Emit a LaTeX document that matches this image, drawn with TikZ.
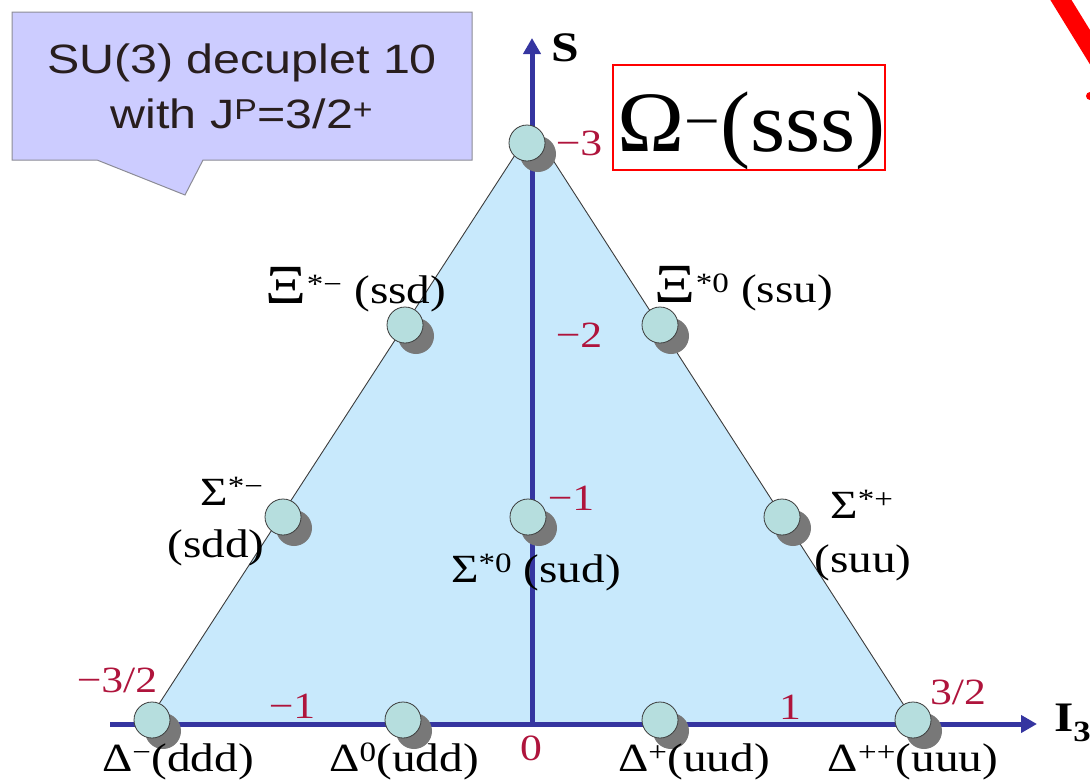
\documentclass[tikz,border=0pt]{standalone}
\usepackage{fontspec}
\usepackage{graphicx}
\setmainfont{Liberation Serif}
\newfontfamily\tms[FakeStretch=1.18]{Liberation Serif}
\newfontfamily\tmsw[FakeStretch=1.05]{Liberation Serif}
\newfontfamily\ars[FakeStretch=1.18]{Liberation Sans}
\usetikzlibrary{arrows.meta,shadows}
\definecolor{axisblue}{RGB}{53,53,160}
\definecolor{numred}{RGB}{175,20,60}
\definecolor{trifill}{RGB}{200,233,252}
\definecolor{ballfill}{RGB}{182,222,222}
\definecolor{ballline}{RGB}{60,60,60}
\definecolor{shadowgray}{RGB}{120,120,120}
\definecolor{bubblefill}{RGB}{204,204,255}
\definecolor{bubbleline}{RGB}{140,140,150}
\definecolor{edgegray}{RGB}{60,60,60}
\newcommand\lblfont{\tms\fontsize{40}{40}\selectfont}
\newcommand\numfont{\tms\fontsize{37}{37}\selectfont}
\newcommand\XiGlyph{\scalebox{1.35}[1.38]{\symbol{"039E}}}
\begin{document}
\begin{tikzpicture}[x=1pt,y=-1pt,
  ball/.style={circle, draw=ballline, line width=0.8pt, fill=ballfill,
    minimum size=36pt, inner sep=0pt,
    drop shadow={shadow xshift=11pt, shadow yshift=-11pt, fill=shadowgray, opacity=1}},
  axisline/.style={draw=axisblue, line width=5pt},
  axisarrow/.style={axisline, -{Triangle[length=16pt,width=17pt]}},
  edge/.style={draw=edgegray, line width=0.9pt},
  plabel/.style={font=\lblfont, text=black, inner sep=0pt, anchor=base},
  num/.style={font=\numfont, text=numred, inner sep=0pt, anchor=center},
  axlabel/.style={font=\tms\bfseries\fontsize{42}{42}\selectfont, text=black, inner sep=0pt}]
\useasboundingbox (0,0) rectangle (1090,782);

% red stroke at top right
\draw[red, line width=18pt] (1056,-8) -- (1104,70);
\fill[red] (1090,96) circle (4pt);

% speech bubble
\path[fill=bubblefill, draw=bubbleline, line width=1pt]
  (12,12) -- (472,12) -- (472,160) -- (203,160) -- (185,195) -- (97,160) -- (12,160) -- cycle;
\node[font=\ars\fontsize{41}{55}\selectfont, text={rgb,255:red,40;green,30;blue,30}, align=center, inner sep=0pt]
  (title) at (242,86) {SU(3) decuplet 10\\with J\textsuperscript{P}=3/2\textsuperscript{+}};

% triangle
\coordinate (tl) at (515,155);
\coordinate (tr) at (551,157);
\coordinate (bl) at (146,724);
\coordinate (br) at (916,724);
\fill[trifill] (tl) -- (tr) -- (br) -- (bl) -- cycle;
\draw[edge] (tl) -- (bl);
\draw[edge] (tr) -- (br);

% axes
\coordinate (xstart) at (110,724);
\coordinate (xend) at (1037,724);
\coordinate (ybottom) at (532,724);
\coordinate (ytop) at (532,38);
\draw[axisarrow] (ybottom) -- (ytop);
\draw[axisarrow] (xstart) -- (xend);
\node[axlabel] (Slbl) at (565,48) {S};
\node[axlabel, anchor=base west] (Ilbl) at (1054,731) {I\textsubscript{3}};

% Omega box
\node[draw=red, line width=1.2pt, minimum width=272pt, minimum height=105pt, inner sep=0pt] (omegabox) at (749,117.5) {};
\node[font=\tmsw\fontsize{86}{86}\selectfont, inner sep=0pt, anchor=base west] (omegalbl) at (617,151) {Ω\textsuperscript{−}(sss)};

% particles
\node[ball] (om) at (527,143) {};
\node[ball] (xim) at (405,325) {};
\node[ball] (xiz) at (660,325) {};
\node[ball] (sigm) at (283,517) {};
\node[ball] (sigz) at (528,517) {};
\node[ball] (sigp) at (782,517) {};
\node[ball] (delm) at (152,720) {};
\node[ball] (delz) at (403,720) {};
\node[ball] (delp) at (660,720) {};
\node[ball] (delpp) at (913,720) {};

% particle labels
\node[plabel] (ximl) at (356,303) {\XiGlyph\textsuperscript{*−} (ssd)};
\node[plabel] (xizl) at (744,302) {\XiGlyph\textsuperscript{*0} (ssu)};
\node[plabel] (sigml) at (232,505) {Σ\textsuperscript{*−}};
\node[plabel] (sigml2) at (216,557) {(sdd)};
\node[plabel] (sigzl) at (536,582) {Σ\textsuperscript{*0} (sud)};
\node[plabel] (sigpl) at (862,518) {Σ\textsuperscript{*+}};
\node[plabel] (sigpl2) at (863,572) {(suu)};
\node[plabel] (delml) at (178,771) {Δ\textsuperscript{−}(ddd)};
\node[plabel] (delzl) at (404,771) {Δ\textsuperscript{0}(udd)};
\node[plabel] (delpl) at (694,771) {Δ\textsuperscript{+}(uud)};
\node[plabel] (delppl) at (913,771) {Δ\textsuperscript{++}(uuu)};

% numbers
\node[num] (n3) at (579,143) {−3};
\node[num] (n2) at (579,335) {−2};
\node[num] (n1) at (571,498) {−1};
\node[num] (nm32) at (117,680) {−3/2};
\node[num] (nm1) at (292,706) {−1};
\node[num] (nz) at (531,748) {0};
\node[num] (np1) at (790,707) {1};
\node[num] (np32) at (958,692) {3/2};
\end{tikzpicture}
\end{document}
